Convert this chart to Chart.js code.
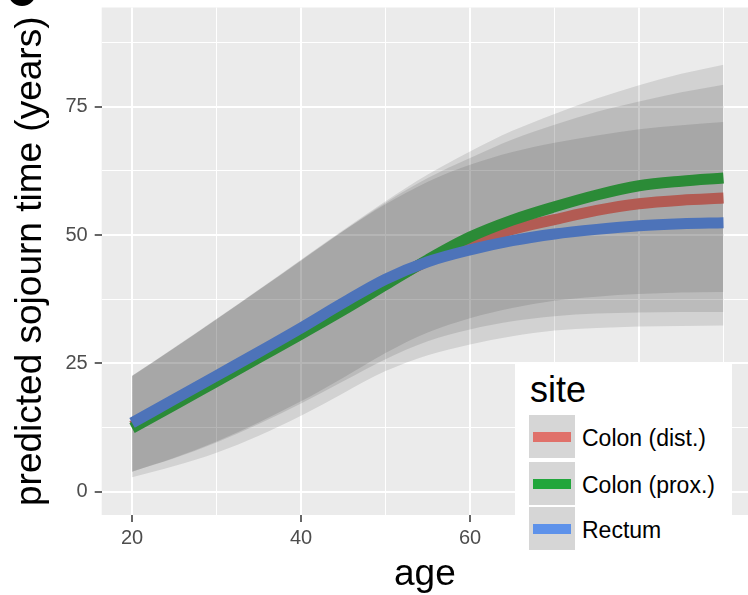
<!DOCTYPE html>
<html>
<head>
<meta charset="utf-8">
<script src="https://cdn.jsdelivr.net/npm/chart.js@4/dist/chart.umd.min.js"></script>
<style>
  html, body { margin: 0; padding: 0; background: #fff; overflow: hidden; }
  #wrap { position: relative; width: 748px; height: 595px; font-family: "Liberation Sans", Arial, Helvetica, sans-serif; }
  #badge { position: absolute; left: 8px; top: -22px; width: 28px; height: 28px; border-radius: 50%; background: #000; }
  #legend { position: absolute; left: 515px; top: 362px; width: 217px; height: 240px; background: #fff; }
  #legend .title { position: absolute; left: 15px; top: 10px; font-size: 36px; line-height: 36px; color: #000; }
  #legend .row { position: absolute; left: 14px; height: 43px; display: flex; align-items: center; }
  #legend .key { width: 46px; height: 43px; background: #d6d6d6; display: flex; align-items: center; justify-content: center; }
  #legend .bar { width: 38px; height: 10px; }
  #legend .label { margin-left: 7px; padding-top: 3px; font-size: 23px; color: #000; white-space: nowrap; }
</style>
</head>
<body>
<div id="wrap">
  <canvas id="chart"></canvas>
  <div id="badge"></div>
  <div id="legend"></div>
</div>
<script>
// values, every 5 years of age
const AGES = [20, 25, 30, 35, 40, 45, 50, 55, 60, 65, 70, 75, 80, 85, 90];
const SITES = ["Colon (dist.)", "Colon (prox.)", "Rectum"];

const DIST_FIT = [12.8, 17.3, 21.9, 26.5, 31.1, 35.8, 40.6, 45.0, 48.5, 51.1, 53.0, 54.8, 56.1, 56.8, 57.2];
const PROX_FIT = [12.4, 16.9, 21.5, 26.1, 30.7, 35.4, 40.3, 45.2, 49.6, 52.9, 55.5, 57.8, 59.6, 60.5, 61.1];
const RECT_FIT = [13.4, 18.0, 22.6, 27.2, 31.9, 36.8, 41.4, 44.8, 47.1, 48.9, 50.2, 51.1, 51.8, 52.2, 52.4];

const DIST_UPPER = [22.5, 28.0, 33.6, 39.3, 45.0, 50.8, 56.3, 61.1, 65.0, 68.6, 71.5, 74.0, 76.0, 77.8, 79.3];
const DIST_LOWER = [3.9, 6.5, 9.6, 13.2, 17.2, 21.5, 25.8, 29.3, 31.6, 33.2, 34.2, 34.7, 34.9, 35.0, 35.0];
const PROX_UPPER = [22.6, 28.1, 33.7, 39.4, 45.2, 51.0, 56.6, 61.8, 66.3, 70.3, 73.6, 76.6, 79.2, 81.4, 83.2];
const PROX_LOWER = [3.9, 6.6, 9.8, 13.5, 17.6, 22.2, 27.0, 31.0, 33.8, 35.8, 37.2, 38.0, 38.5, 38.8, 38.9];
const RECT_UPPER = [22.6, 28.0, 33.6, 39.3, 45.1, 50.8, 56.0, 60.4, 63.7, 66.2, 68.0, 69.4, 70.6, 71.4, 72.0];
const RECT_LOWER = [2.8, 5.0, 7.6, 10.9, 14.8, 19.2, 23.5, 26.6, 28.7, 30.3, 31.4, 31.9, 32.2, 32.3, 32.4];

const LINE_COLORS = ["#b25b53", "#2b8b37", "#4d73b9"];
const KEY_COLORS = ["#e0716a", "#22a63c", "#5e92ea"];

const X_MAJOR = [20, 40, 60, 80];
const Y_MAJOR = [0, 25, 50, 75];

const FITS = [DIST_FIT, PROX_FIT, RECT_FIT];
const UPPERS = [DIST_UPPER, PROX_UPPER, RECT_UPPER];
const LOWERS = [DIST_LOWER, PROX_LOWER, RECT_LOWER];

const toPoints = (values) => values.map((v, i) => ({ x: AGES[i], y: v }));

const ribbonFill = "rgba(0, 0, 0, 0.105)";

// lines first in the array so they sit on top; Rectum drawn last (on top)
const lineSets = SITES.map((site, i) => ({
  label: site,
  data: toPoints(FITS[i]),
  borderColor: LINE_COLORS[i],
  borderWidth: 11,
  borderCapStyle: "butt",
  pointRadius: 0,
  fill: false,
  cubicInterpolationMode: "monotone",
  order: 3 - i,
})).reverse();

const ribbonSets = [];
SITES.forEach((site, i) => {
  ribbonSets.push({
    label: site + " upper",
    data: toPoints(UPPERS[i]),
    borderWidth: 0,
    pointRadius: 0,
    backgroundColor: ribbonFill,
    fill: "+1",
    cubicInterpolationMode: "monotone",
    order: 10,
  });
  ribbonSets.push({
    label: site + " lower",
    data: toPoints(LOWERS[i]),
    borderWidth: 0,
    pointRadius: 0,
    fill: false,
    cubicInterpolationMode: "monotone",
    order: 10,
  });
});

const fontFamily = '"Liberation Sans", Arial, Helvetica, sans-serif';

function noPadding(scale) {
  scale.paddingTop = 0;
  scale.paddingBottom = 0;
  scale.paddingLeft = 0;
  scale.paddingRight = 0;
}

new Chart(document.getElementById("chart"), {
  type: "line",
  data: { datasets: [...lineSets, ...ribbonSets] },
  options: {
    responsive: true,
    maintainAspectRatio: false,
    animation: false,
    layout: { padding: { left: 12, top: 7.5, right: 0, bottom: 0 } },
    plugins: {
      legend: { display: false },
      tooltip: { enabled: false },
      filler: { propagate: false },
    },
    scales: {
      x: {
        type: "linear",
        min: 16.41,
        max: 92.9,
        border: { display: false },
        grid: {
          color: "#ffffff",
          lineWidth: (ctx) => (X_MAJOR.includes(ctx.tick && ctx.tick.value) ? 2 : 1),
          tickLength: 7,
          tickWidth: 1.5,
          tickColor: (ctx) => (X_MAJOR.includes(ctx.tick && ctx.tick.value) ? "#333333" : "rgba(0,0,0,0)"),
        },
        ticks: {
          stepSize: 10,
          includeBounds: false,
          autoSkip: false,
          maxRotation: 0,
          padding: 4,
          color: "#4d4d4d",
          font: { family: fontFamily, size: 20 },
          callback: (value) => (X_MAJOR.includes(value) ? String(value) : ""),
        },
        title: {
          display: true,
          text: "age",
          color: "#000",
          padding: { top: 0, bottom: 1.3 },
          font: { family: fontFamily, size: 37, lineHeight: 1 },
        },
        afterFit: (scale) => {
          scale.height = 80;
          noPadding(scale);
        },
      },
      y: {
        type: "linear",
        min: -4.54,
        max: 94.33,
        border: { display: false },
        grid: {
          color: "#ffffff",
          lineWidth: (ctx) => (Y_MAJOR.includes(ctx.tick && ctx.tick.value) ? 2 : 1),
          tickLength: 7,
          tickWidth: 1.5,
          tickColor: (ctx) => (Y_MAJOR.includes(ctx.tick && ctx.tick.value) ? "#333333" : "rgba(0,0,0,0)"),
        },
        ticks: {
          stepSize: 12.5,
          includeBounds: false,
          autoSkip: false,
          padding: 7,
          color: "#4d4d4d",
          font: { family: fontFamily, size: 20 },
          callback: (value) => (Y_MAJOR.includes(value) ? String(value) : ""),
        },
        title: {
          display: true,
          text: "predicted sojourn time (years)",
          color: "#000",
          padding: { top: 0, bottom: 0 },
          font: { family: fontFamily, size: 37, lineHeight: 1 },
        },
        afterFit: (scale) => {
          scale.width = 89.7;
          noPadding(scale);
        },
      },
    },
  },
  plugins: [
    {
      id: "panelBackground",
      beforeDraw(chart) {
        const { ctx, chartArea } = chart;
        ctx.save();
        ctx.fillStyle = "#ebebeb";
        ctx.fillRect(chartArea.left, chartArea.top, chartArea.right - chartArea.left, chartArea.bottom - chartArea.top);
        ctx.restore();
      },
    },
  ],
});

// legend built from the same site names and colours
const legend = document.getElementById("legend");
const title = document.createElement("div");
title.className = "title";
title.textContent = "site";
legend.appendChild(title);

const ROW_TOPS = [53, 100, 145];
SITES.forEach((site, i) => {
  const row = document.createElement("div");
  row.className = "row";
  row.style.top = ROW_TOPS[i] + "px";
  row.innerHTML =
    '<div class="key"><div class="bar" style="background:' + KEY_COLORS[i] + '"></div></div>' +
    '<div class="label">' + site + "</div>";
  legend.appendChild(row);
});
</script>
</body>
</html>
